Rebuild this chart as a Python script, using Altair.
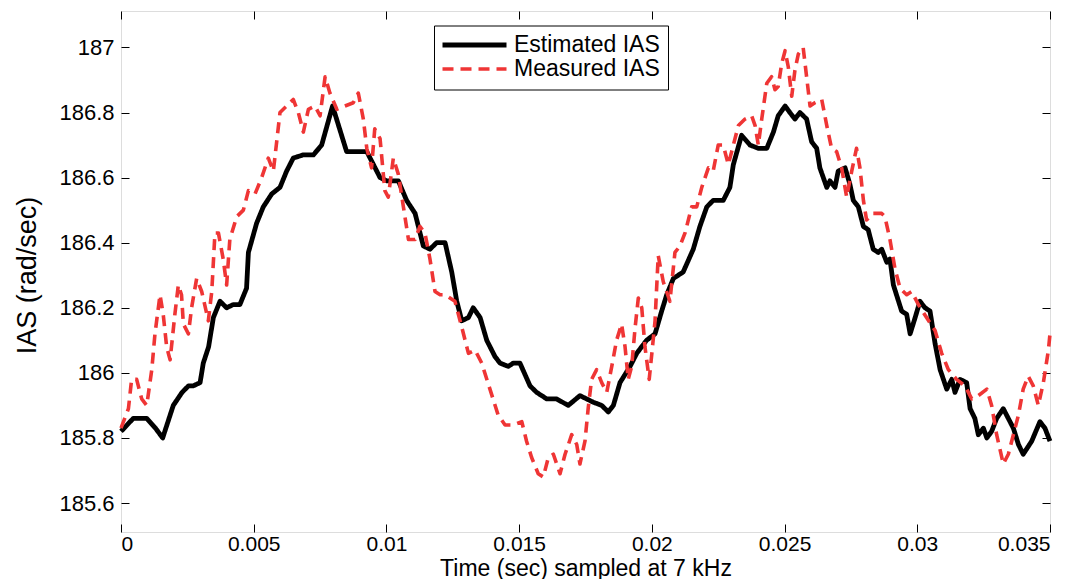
import altair as alt
import pandas as pd

# ---------------- data ----------------
est_t = [0, 0.00046, 0.00097, 0.0013, 0.00157, 0.00197, 0.0023, 0.00254, 0.00272, 0.00298,
         0.0031, 0.0033, 0.00348, 0.00373, 0.00398, 0.00423, 0.00448, 0.00473, 0.0048, 0.00511,
         0.00536, 0.00568, 0.00599, 0.00624, 0.00649, 0.00687, 0.00725, 0.00756, 0.00797, 0.0085,
         0.00894, 0.00926, 0.00976, 0.01001, 0.01045, 0.01076, 0.01108, 0.01139, 0.01164, 0.01189,
         0.01221, 0.01246, 0.01265, 0.01284, 0.01309, 0.01327, 0.01353, 0.01378, 0.01409, 0.01428,
         0.01459, 0.01478, 0.01503, 0.01541, 0.01566, 0.01604, 0.01641, 0.01685, 0.01729, 0.01779,
         0.01811, 0.01836, 0.01855, 0.0188, 0.01918, 0.01943, 0.0198, 0.02012, 0.02037, 0.02056,
         0.02081, 0.02118, 0.02156, 0.02181, 0.02207, 0.02231, 0.02269, 0.02294, 0.02307, 0.02338,
         0.0237, 0.02401, 0.02433, 0.02458, 0.02476, 0.02502, 0.0252, 0.02539, 0.02558, 0.02583,
         0.02602, 0.02621, 0.02633, 0.02659, 0.02671, 0.0269, 0.02702, 0.02728, 0.02746, 0.02759,
         0.02778, 0.02797, 0.02815, 0.02834, 0.02853, 0.02866, 0.02885, 0.02897, 0.0291, 0.02941,
         0.0296, 0.02973, 0.02992, 0.0301, 0.03029, 0.03048, 0.03067, 0.03086, 0.03111, 0.0313,
         0.03142, 0.03161, 0.03186, 0.03199, 0.03217, 0.0323, 0.03249, 0.03262, 0.0328, 0.03299,
         0.03324, 0.03343, 0.03362, 0.03381, 0.03399, 0.03431, 0.03462, 0.03481, 0.035]
est_v = [185.82, 185.86, 185.86, 185.83, 185.80, 185.90, 185.94, 185.96, 185.96, 185.97,
         186.03, 186.08, 186.17, 186.22, 186.20, 186.21, 186.21, 186.26, 186.37, 186.46,
         186.51, 186.55, 186.57, 186.62, 186.66, 186.67, 186.67, 186.70, 186.82, 186.68,
         186.68, 186.68, 186.60, 186.59, 186.59, 186.53, 186.49, 186.39, 186.38, 186.40,
         186.40, 186.31, 186.22, 186.16, 186.17, 186.20, 186.17, 186.10, 186.05, 186.03,
         186.02, 186.03, 186.03, 185.96, 185.94, 185.92, 185.92, 185.90, 185.93, 185.91,
         185.90, 185.88, 185.90, 185.97, 186.02, 186.06, 186.10, 186.12, 186.19, 186.24,
         186.29, 186.31, 186.38, 186.45, 186.51, 186.53, 186.53, 186.57, 186.64, 186.73,
         186.70, 186.69, 186.69, 186.74, 186.79, 186.82, 186.80, 186.78, 186.80, 186.78,
         186.71, 186.69, 186.63, 186.57, 186.59, 186.57, 186.62, 186.63, 186.58, 186.53,
         186.51, 186.45, 186.44, 186.38, 186.37, 186.38, 186.34, 186.35, 186.27, 186.19,
         186.18, 186.12, 186.17, 186.22, 186.20, 186.19, 186.09, 186.01, 185.95, 185.98,
         185.94, 185.98, 185.97, 185.89, 185.86, 185.81, 185.83, 185.80, 185.82, 185.86,
         185.89, 185.86, 185.83, 185.78, 185.75, 185.79, 185.85, 185.83, 185.79]

meas_t = [0, 0.00028, 0.0004, 0.00059, 0.00078, 0.00097, 0.00116, 0.00128, 0.00147, 0.00159,
          0.00172, 0.00185, 0.00203, 0.00216, 0.00228, 0.00235, 0.00254, 0.00266, 0.00285, 0.00304,
          0.00329, 0.00342, 0.00354, 0.00367, 0.00385, 0.00398, 0.0041, 0.00436, 0.00461, 0.0048,
          0.00505, 0.0053, 0.00555, 0.00574, 0.00599, 0.00624, 0.00649, 0.00668, 0.00687, 0.00706,
          0.00731, 0.0075, 0.00769, 0.00787, 0.00813, 0.00844, 0.00875, 0.00894, 0.00913, 0.00926,
          0.00944, 0.00956, 0.00976, 0.00994, 0.01007, 0.01026, 0.01045, 0.01064, 0.01083, 0.01108,
          0.01126, 0.01145, 0.01164, 0.01183, 0.01202, 0.01221, 0.01258, 0.01284, 0.01309, 0.01334,
          0.01359, 0.0139, 0.01421, 0.01447, 0.01478, 0.0151, 0.01528, 0.01547, 0.01572, 0.01591,
          0.0161, 0.01629, 0.01654, 0.01673, 0.01698, 0.01717, 0.01729, 0.01748, 0.0176, 0.01773,
          0.01792, 0.01811, 0.0183, 0.01849, 0.01867, 0.01886, 0.01899, 0.01911, 0.01924, 0.01937,
          0.01949, 0.01962, 0.01974, 0.0199, 0.02, 0.02012, 0.02024, 0.02043, 0.02068, 0.02087,
          0.02106, 0.02125, 0.0215, 0.02169, 0.02188, 0.02213, 0.02231, 0.0225, 0.02269, 0.02288,
          0.02307, 0.02326, 0.02351, 0.02376, 0.02389, 0.02401, 0.02414, 0.02433, 0.02451, 0.02464,
          0.02476, 0.02489, 0.02502, 0.02514, 0.02527, 0.02539, 0.02552, 0.0257, 0.02583, 0.02596,
          0.02614, 0.0264, 0.02659, 0.02677, 0.02696, 0.02715, 0.02734, 0.02753, 0.02771, 0.02784,
          0.02797, 0.02809, 0.02834, 0.02866, 0.02878, 0.02897, 0.02916, 0.02935, 0.0296, 0.02979,
          0.03004, 0.03035, 0.03067, 0.03092, 0.03117, 0.03148, 0.0318, 0.03205, 0.0323, 0.03262,
          0.0328, 0.03299, 0.03324, 0.03343, 0.03362, 0.03381, 0.03399, 0.03418, 0.03437, 0.03456,
          0.03475, 0.03494, 0.035]
meas_v = [185.83, 185.89, 185.98, 185.98, 185.92, 185.90, 186.01, 186.12, 186.24, 186.18,
          186.08, 186.04, 186.18, 186.27, 186.24, 186.15, 186.12, 186.20, 186.29, 186.25,
          186.16, 186.25, 186.43, 186.43, 186.35, 186.27, 186.41, 186.48, 186.50, 186.56,
          186.55, 186.60, 186.66, 186.62, 186.80, 186.82, 186.84, 186.80, 186.74, 186.81,
          186.82, 186.79, 186.91, 186.86, 186.81, 186.82, 186.83, 186.86, 186.78, 186.69,
          186.63, 186.75, 186.72, 186.56, 186.54, 186.66, 186.61, 186.51, 186.41, 186.41,
          186.45, 186.43, 186.35, 186.25, 186.24, 186.24, 186.22, 186.14, 186.06, 186.07,
          186.03, 185.95, 185.87, 185.84, 185.84, 185.85, 185.79, 185.74, 185.69, 185.68,
          185.74, 185.75, 185.69, 185.75, 185.81, 185.78, 185.72, 185.79, 185.89, 185.98,
          186.01, 185.97, 185.94, 186.02, 186.10, 186.15, 186.08, 185.98, 186.02, 186.14,
          186.23, 186.20, 186.08, 185.98, 186.06, 186.16, 186.36, 186.28, 186.22, 186.37,
          186.39, 186.43, 186.51, 186.51, 186.57, 186.63, 186.62, 186.70, 186.70, 186.64,
          186.70, 186.76, 186.78, 186.79, 186.76, 186.70, 186.78, 186.89, 186.91, 186.87,
          186.88, 186.95, 186.99, 186.94, 186.85, 186.93, 186.98, 187.00, 186.91, 186.82,
          186.83, 186.84, 186.76, 186.69, 186.68, 186.63, 186.54, 186.62, 186.69, 186.63,
          186.53, 186.47, 186.49, 186.49, 186.48, 186.41, 186.32, 186.26, 186.24, 186.25,
          186.21, 186.17, 186.13, 186.06, 186.01, 185.98, 185.96, 185.92, 185.93, 185.95,
          185.90, 185.81, 185.72, 185.75, 185.81, 185.87, 185.95, 185.99, 185.96, 185.90,
          185.97, 186.07, 186.12]

series_names = ["Estimated IAS", "Measured IAS"]
x_ticks = [0, 0.005, 0.01, 0.015, 0.02, 0.025, 0.03, 0.035]
y_ticks = [185.6, 185.8, 186, 186.2, 186.4, 186.6, 186.8, 187]
x_title = "Time (sec) sampled at 7 kHz"
y_title = "IAS (rad/sec)"

df = pd.concat([
    pd.DataFrame({"t": est_t, "v": est_v, "series": series_names[0], "i": range(len(est_t))}),
    pd.DataFrame({"t": meas_t, "v": meas_v, "series": series_names[1], "i": range(len(meas_t))}),
], ignore_index=True)

FONT = "Liberation Sans"
RED = "#ef3535"

x_scale = alt.Scale(domain=[0, 0.035], nice=False, zero=False)
y_scale = alt.Scale(domain=[185.511, 187.112], nice=False, zero=False)

legend = alt.Legend(
    title=None, orient="none", legendX=313, legendY=14.5,
    padding=8, fillColor="white", strokeColor="black",
    labelFont=FONT, labelFontSize=23, labelColor="black", labelLimit=400,
    symbolType="M-4,0H4", symbolSize=256, symbolOffset=21, labelOffset=28,
    rowPadding=0,
)

lines = alt.Chart(df).mark_line(strokeJoin="round").encode(
    x=alt.X("t:Q", scale=x_scale, axis=alt.Axis(
        orient="bottom", values=x_ticks, format="~g", offset=-8, tickSize=8,
        domain=False, grid=False, labelPadding=18, labelBaseline="alphabetic",
        labelFont=FONT, labelFontSize=21, labelColor="black", tickColor="black",
        title=x_title, titleFont=FONT, titleFontSize=23, titleFontWeight="normal",
        titleColor="black", titleX=464.5, titleY=51, titleAlign="center",
        titleBaseline="alphabetic")),
    y=alt.Y("v:Q", scale=y_scale, axis=alt.Axis(
        orient="left", values=y_ticks, format="~g", offset=-8, tickSize=8,
        domain=False, grid=False, labelPadding=7,
        labelFont=FONT, labelFontSize=22, labelColor="black", tickColor="black",
        title=y_title, titleFont=FONT, titleFontSize=27, titleFontWeight="normal",
        titleColor="black", titleX=-94, titleY=264, titleAlign="center",
        titleBaseline="alphabetic", titleAngle=270)),
    color=alt.Color("series:N", scale=alt.Scale(domain=series_names, range=["#000000", RED]), legend=legend),
    strokeDash=alt.StrokeDash("series:N", scale=alt.Scale(domain=series_names, range=[[1, 0], [11, 7]]), legend=legend),
    strokeWidth=alt.StrokeWidth("series:N", scale=alt.Scale(domain=series_names, range=[4.8, 3.6]), legend=legend),
    order="i:Q",
)

mirror = alt.Chart(df).mark_line(opacity=0).encode(
    x=alt.X("t:Q", scale=x_scale, axis=alt.Axis(
        orient="top", values=x_ticks, labels=False, offset=-8, tickSize=8,
        domain=False, grid=False, tickColor="black", title="")),
    y=alt.Y("v:Q", scale=y_scale, axis=alt.Axis(
        orient="right", values=y_ticks, labels=False, offset=-8, tickSize=8,
        domain=False, grid=False, tickColor="black", title="")),
    detail="series:N",
    order="i:Q",
)

chart = alt.layer(lines, mirror).resolve_axis(
    x="independent", y="independent"
).properties(
    width=929, height=521,
    autosize=alt.AutoSizeParams(type="none"),
    padding={"left": 113, "top": 3, "right": 24, "bottom": 47},
).configure_view(
    stroke="#222222", strokeWidth=1.3
).configure(background="white")

chart.save("out.html", embed_options={"renderer": "svg", "actions": False})
